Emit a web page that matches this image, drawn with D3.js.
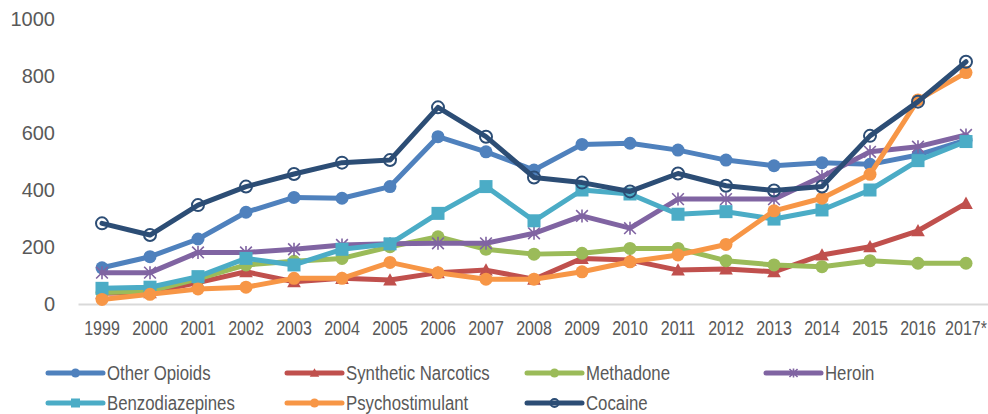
<!DOCTYPE html>
<html>
<head>
<meta charset="utf-8">
<script src="https://cdn.jsdelivr.net/npm/d3@7"></script>
<style>
  body { margin: 0; background: #fff; }
  .axis text { fill: #595959; }
</style>
</head>
<body>
<div id="chart-area"></div>
<script>
// data
const years = ["1999","2000","2001","2002","2003","2004","2005","2006","2007","2008",
               "2009","2010","2011","2012","2013","2014","2015","2016","2017*"]
const yTicks = [0, 200, 400, 600, 800, 1000]

const otherOpioids      = [127,166,228,322,374,371,412,587,534,470,560,564,540,505,485,496,490,523,575]
const syntheticNarcotic = [38,40,75,113,78,90,84,110,119,87,160,154,119,123,113,172,201,257,353]
const methadone         = [40,45,88,137,150,160,201,236,192,175,178,195,195,152,137,131,152,143,143]
const heroin            = [110,110,181,181,192,207,211,213,213,248,309,266,368,368,368,447,534,552,593]
const benzodiazepines   = [55,59,96,160,137,192,211,318,412,292,400,386,315,324,298,330,400,503,570]
const psychostimulant   = [16,34,53,59,90,90,146,110,87,87,113,148,172,209,327,371,455,716,812]
const cocaine           = [283,242,347,412,456,496,505,690,587,444,426,395,458,415,398,412,590,710,850]

const series = [
  {name: "Other Opioids",       values: otherOpioids,      color: "#4F81BD", marker: "circle"},
  {name: "Synthetic Narcotics", values: syntheticNarcotic, color: "#C0504D", marker: "triangle"},
  {name: "Methadone",           values: methadone,         color: "#9BBB59", marker: "circle"},
  {name: "Heroin",              values: heroin,            color: "#8064A2", marker: "star"},
  {name: "Benzodiazepines",     values: benzodiazepines,   color: "#4BACC6", marker: "square"},
  {name: "Psychostimulant",     values: psychostimulant,   color: "#F79646", marker: "circle"},
  {name: "Cocaine",             values: cocaine,           color: "#2C4D75", marker: "open"}
]

const WIDTH = 988
const HEIGHT = 414
const FONT = "'Liberation Sans', Arial, sans-serif"
const NARROW = 0.8   // the original labels use a condensed face

const svg = d3.select("#chart-area").append("svg")
    .attr("width", WIDTH)
    .attr("height", HEIGHT)

const x = d3.scaleBand().domain(years).range([78, 990])
const y = d3.scaleLinear().domain([0, 1000]).range([304, 19])
const cx = d => x(d) + x.bandwidth() / 2

// y axis (labels only)
const yAxis = svg.append("g")
    .attr("class", "axis")
    .attr("transform", "translate(78,0)")
    .call(d3.axisLeft(y).tickValues(yTicks).tickFormat(d3.format("d"))
        .tickSize(0).tickPadding(23))
yAxis.select(".domain").remove()
yAxis.selectAll("text")
    .attr("font-family", FONT)
    .attr("font-size", "20px")

// x axis
const xAxis = svg.append("g")
    .attr("class", "axis")
    .attr("transform", "translate(0,304)")
    .call(d3.axisBottom(x).tickSize(0).tickPadding(17).tickSizeOuter(0))
xAxis.select(".domain")
    .attr("stroke", "#D9D9D9")
    .attr("stroke-width", 2)
xAxis.selectAll("text")
    .attr("font-family", FONT)
    .attr("font-size", "20px")
    .attr("transform", `scale(${NARROW},1)`)

// marker drawing
function drawMarker(sel, s, size) {
  const r = size / 2
  if (s.marker === "circle") {
    sel.append("circle").attr("r", r).attr("fill", s.color)
  } else if (s.marker === "open") {
    sel.append("circle").attr("r", r - 0.5)
        .attr("fill", "none")
        .attr("stroke", s.color).attr("stroke-width", 2)
  } else if (s.marker === "square") {
    sel.append("rect").attr("x", -r).attr("y", -r)
        .attr("width", size).attr("height", size).attr("fill", s.color)
  } else if (s.marker === "triangle") {
    sel.append("path")
        .attr("d", `M0,${-r * 1.05}L${r * 1.05},${r * 0.85}L${-r * 1.05},${r * 0.85}Z`)
        .attr("fill", s.color)
  } else if (s.marker === "star") {
    const a = r * 0.9
    sel.append("path")
        .attr("d", `M${-a},${-a}L${a},${a}M${-a},${a}L${a},${-a}M0,${-r}L0,${r}`)
        .attr("stroke", s.color).attr("stroke-width", 1.6).attr("fill", "none")
  }
}

const line = d3.line()
    .x((d, i) => cx(years[i]))
    .y(d => y(d))

series.forEach(s => {
  const g = svg.append("g")
  g.append("path")
      .datum(s.values)
      .attr("d", line)
      .attr("fill", "none")
      .attr("stroke", s.color)
      .attr("stroke-width", 5)
      .attr("stroke-linejoin", "round")
      .attr("stroke-linecap", "round")

  g.selectAll(".pt").data(s.values).enter().append("g")
      .attr("class", "pt")
      .attr("transform", (d, i) => `translate(${cx(years[i])},${y(d)})`)
      .each(function() { drawMarker(d3.select(this), s, 13) })
})

// legend
const legendCols = [48, 287, 527, 766]
const legendRows = [373, 403]

series.forEach((s, i) => {
  const lx = legendCols[i % 4]
  const ly = legendRows[Math.floor(i / 4)]
  const lg = svg.append("g").attr("transform", `translate(${lx},${ly})`)
  lg.append("line")
      .attr("x1", 0).attr("x2", 55)
      .attr("stroke", s.color)
      .attr("stroke-width", 5)
      .attr("stroke-linecap", "round")
  const m = lg.append("g").attr("transform", "translate(27.5,0)")
  drawMarker(m, s, 9)
  lg.append("text")
      .attr("transform", `translate(59,0) scale(${NARROW},1)`)
      .attr("dy", "0.35em")
      .attr("font-family", FONT)
      .attr("font-size", "21px")
      .attr("fill", "#595959")
      .text(s.name)
})
</script>
</body>
</html>
